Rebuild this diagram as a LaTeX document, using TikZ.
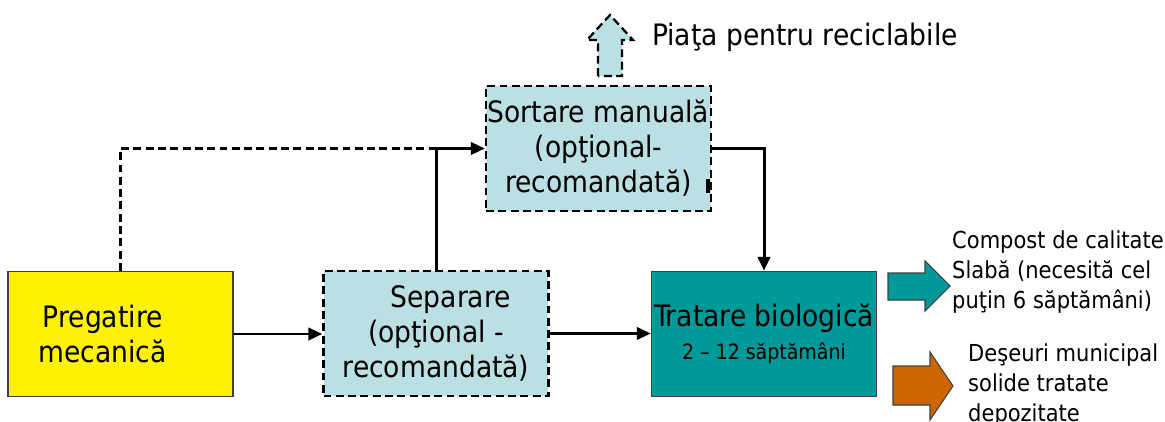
\documentclass[tikz,border=0pt]{standalone}
\usepackage{fontspec}
\setmainfont{DejaVu Sans Condensed}
\usetikzlibrary{arrows.meta,positioning}
\definecolor{optblue}{HTML}{BAE0E3}
\definecolor{bioteal}{HTML}{009999}
\definecolor{landorange}{HTML}{CC6600}
\definecolor{edgegray}{HTML}{404040}

\begin{document}
\begin{tikzpicture}[x=0.02cm,y=-0.02cm,
    bigtext/.style={font=\fontsize{16.8}{20}\selectfont},
    smalltext/.style={font=\fontsize{13.3}{17}\selectfont},
    stagebox/.style={minimum width=4.5cm,minimum height=2.5cm,inner sep=0pt,align=center,bigtext},
    optbox/.style={stagebox,draw,fill=optblue,line width=1.3pt,dash pattern=on 4.5pt off 2.5pt},
    flow/.style={line width=1.7pt,-{Triangle[length=8pt,width=7pt]}}]
    \useasboundingbox (0,0) rectangle (1165,422);

    % stages
    \node[stagebox,draw=edgegray,fill=yellow,line width=0.8pt] (preg) at (120.5,334) {Pregatire\hspace*{1.2em}\\mecanică\hspace*{1.2em}};
    \node[optbox] (sep) at (436,333.5) {\hspace*{1em}Separare\\(opţional -\\recomandată)};
    \node[optbox] (sort) at (598.5,148.5) {Sortare manuală\\(opţional-\\recomandată)};
    \node[stagebox,draw=edgegray,fill=bioteal,line width=0.8pt] (bio) at (764,334)
        {Tratare biologică\\[-1pt]{\fontsize{12}{17}\selectfont 2 -- 12 săptămâni}};
    \coordinate (join) at (sep.north |- sort.west);

    % connections
    \draw[flow] (preg.east) -- (preg.east -| sep.west);
    \draw[flow] (sep.east) -- (sep.east -| bio.west);
    \draw[line width=1.3pt,dash pattern=on 4.5pt off 2.5pt] (preg.north) |- (join);
    \draw[flow] (sep.north) |- (sort.west);
    \draw[flow] (sort.east) -| (bio.north);
    \draw[line width=1.8pt] (708,179) -- (708,193);

    % outputs
    \draw[fill=optblue,line width=1.3pt,dash pattern=on 4.5pt off 2.5pt]
        (598,76) -- (598,40) -- (587,40) -- (610,15) -- (633,40) -- (622,40) -- (622,76) -- cycle;
    \node[bigtext,anchor=west] (market) at (646,37) {Piaţa pentru reciclabile};
    \draw[fill=bioteal,draw=edgegray,line width=0.6pt]
        (888,273) -- (925,273) -- (925,261) -- (950,286) -- (925,311) -- (925,300) -- (888,300) -- cycle;
    \node[smalltext,anchor=west,align=left] (compost) at (946,272)
        {Compost de calitate\\Slabă (necesită cel\\puţin 6 săptămâni)};
    \draw[fill=landorange,draw=edgegray,line width=0.6pt]
        (893,366) -- (930,366) -- (930,352) -- (953,386) -- (930,420) -- (930,405) -- (893,405) -- cycle;
    \node[smalltext,anchor=west,align=left] (landfill) at (962,385)
        {Deşeuri municipal\\solide tratate\\depozitate};
\end{tikzpicture}
\end{document}
